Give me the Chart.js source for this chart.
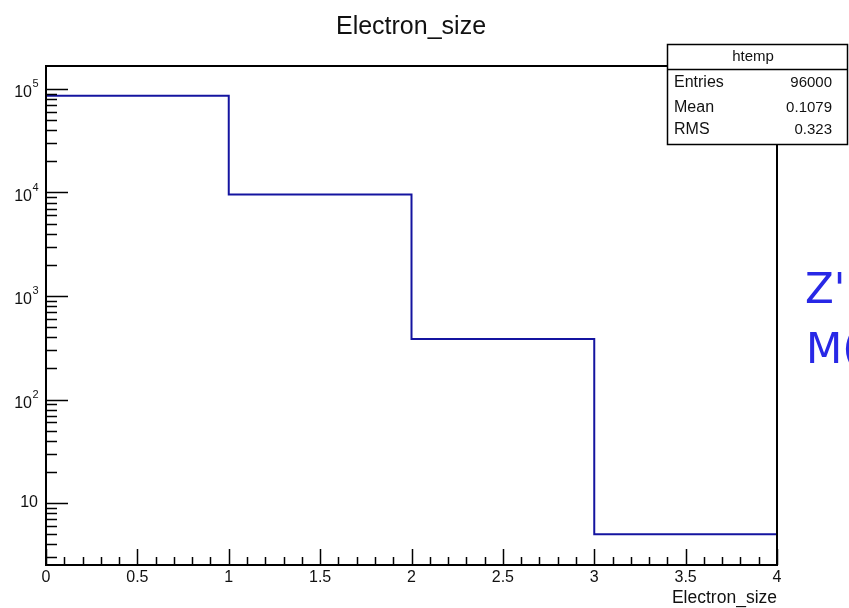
<!DOCTYPE html>
<html>
<head>
<meta charset="utf-8">
<script src="https://cdn.jsdelivr.net/npm/chart.js@4.4.1/dist/chart.umd.min.js"></script>
<style>
  html, body { margin: 0; padding: 0; background: #fff; }
  #c { display: block; }
</style>
</head>
<body>
<canvas id="c" width="849" height="608"></canvas>
<script>
// ---- data ----
const binEdges = [0, 1, 2, 3, 4];
const binCounts = [86030, 9580, 385, 5];
const xTickValues = [0, 0.5, 1, 1.5, 2, 2.5, 3, 3.5, 4];
const xTickLabels = ['0', '0.5', '1', '1.5', '2', '2.5', '3', '3.5', '4'];
const yDecades = [10, 100, 1000, 10000, 100000];
const yExponents = ['', '2', '3', '4', '5'];
const chartTitle = 'Electron_size';
const xAxisTitle = 'Electron_size';
const statsName = 'htemp';
const statsLabels = ['Entries', 'Mean', 'RMS'];
const statsValues = ['96000', '0.1079', '0.323'];
const sideTexts = ["Z'", 'M('];

// histogram outline: each bin's count held from its low edge to its high edge
const points = binEdges.map((e, i) => ({ x: e, y: binCounts[Math.min(i, binCounts.length - 1)] }));

const FONT = '"Liberation Sans", Arial, Helvetica, sans-serif';

const rootPlugin = {
  id: 'rootDecor',
  afterDraw(chart) {
    const ctx = chart.ctx;
    const a = chart.chartArea;
    const xs = chart.scales.x, ys = chart.scales.y;
    ctx.save();
    // frame
    ctx.strokeStyle = '#000';
    ctx.lineWidth = 2;
    ctx.strokeRect(a.left, a.top, a.right - a.left, a.bottom - a.top);
    // x ticks (inward)
    ctx.lineWidth = 1.5;
    ctx.beginPath();
    for (let k = 0; k <= 40; k++) {
      const v = k / 10;
      const px = Math.round(xs.getPixelForValue(v)) + 0.5;
      const len = (k % 5 === 0) ? 16 : 8;
      ctx.moveTo(px, a.bottom);
      ctx.lineTo(px, a.bottom - len);
    }
    // y ticks (inward)
    for (let d = 1; d <= 1e5; d *= 10) {
      for (let m = 1; m <= 9; m++) {
        const v = d * m;
        if (v < ys.min || v > ys.max) continue;
        const py = Math.round(ys.getPixelForValue(v)) + 0.5;
        const len = (m === 1) ? 22 : 11;
        ctx.moveTo(a.left, py);
        ctx.lineTo(a.left + len, py);
      }
    }
    ctx.stroke();

    // y labels
    ctx.fillStyle = '#111';
    yDecades.forEach((v, i) => {
      const py = ys.getPixelForValue(v);
      const exp = yExponents[i];
      ctx.textBaseline = 'middle';
      if (exp === '') {
        ctx.font = '16px ' + FONT;
        ctx.textAlign = 'right';
        ctx.fillText('10', 38, py);
      } else {
        ctx.font = '11px ' + FONT;
        ctx.textAlign = 'left';
        ctx.fillText(exp, 32.5, py - 5);
        ctx.font = '16px ' + FONT;
        ctx.textAlign = 'right';
        ctx.fillText('10', 32, py + 4);
      }
    });

    // title
    ctx.font = '25px ' + FONT;
    ctx.textAlign = 'center';
    ctx.textBaseline = 'middle';
    ctx.fillText(chartTitle, 411, 27);

    // x axis title
    ctx.font = '17.5px ' + FONT;
    ctx.textAlign = 'right';
    ctx.fillText(xAxisTitle, a.right, 598);

    // stats box
    const bx = 667, by = 44, bw = 180, bh = 100;
    ctx.fillStyle = '#fff';
    ctx.fillRect(bx, by, bw, bh);
    ctx.strokeStyle = '#000';
    ctx.lineWidth = 1.5;
    ctx.strokeRect(bx + 0.5, by + 0.5, bw, bh);
    ctx.beginPath();
    ctx.moveTo(bx, 69.5);
    ctx.lineTo(bx + bw, 69.5);
    ctx.stroke();
    ctx.fillStyle = '#111';
    ctx.font = '15px ' + FONT;
    ctx.textAlign = 'center';
    ctx.fillText(statsName, 753, 57);
    const rowsY = [83, 107.5, 130];
    statsLabels.forEach((lab, i) => {
      ctx.font = '16px ' + FONT;
      ctx.textAlign = 'left';
      ctx.fillText(lab, 674, rowsY[i]);
      ctx.font = '15px ' + FONT;
      ctx.textAlign = 'right';
      ctx.fillText(statsValues[i], 832, rowsY[i]);
    });

    // side blue text
    ctx.fillStyle = 'rgb(40,40,230)';
    ctx.font = '42px "DejaVu Sans", sans-serif';
    ctx.textAlign = 'left';
    ctx.textBaseline = 'alphabetic';
    ctx.fillText(sideTexts[0], 805, 303);
    ctx.fillText(sideTexts[1], 806, 363);
    ctx.restore();
  }
};

new Chart(document.getElementById('c'), {
  type: 'line',
  data: {
    datasets: [{
      data: points,
      borderColor: 'rgb(20,20,160)',
      borderWidth: 2,
      pointRadius: 0,
      fill: false,
      stepped: 'before',
      tension: 0
    }]
  },
  options: {
    responsive: false,
    animation: false,
    layout: { padding: { left: 46, right: 72, top: 66, bottom: 0 } },
    plugins: { legend: { display: false }, tooltip: { enabled: false }, title: { display: false } },
    scales: {
      x: {
        type: 'linear',
        min: 0, max: 4,
        bounds: 'data',
        grid: { display: false, drawTicks: false },
        border: { display: false },
        afterBuildTicks(scale) { scale.ticks = xTickValues.map(v => ({ value: v })); },
        afterFit(scale) { scale.height = 43; },
        ticks: {
          autoSkip: false,
          maxRotation: 0,
          padding: 3,
          color: '#111',
          font: { family: FONT, size: 16 },
          callback(value, index) { return xTickLabels[index]; }
        }
      },
      y: {
        type: 'logarithmic',
        min: 2.52, max: 166700,
        bounds: 'data',
        display: false
      }
    }
  },
  plugins: [rootPlugin]
});
</script>
</body>
</html>
